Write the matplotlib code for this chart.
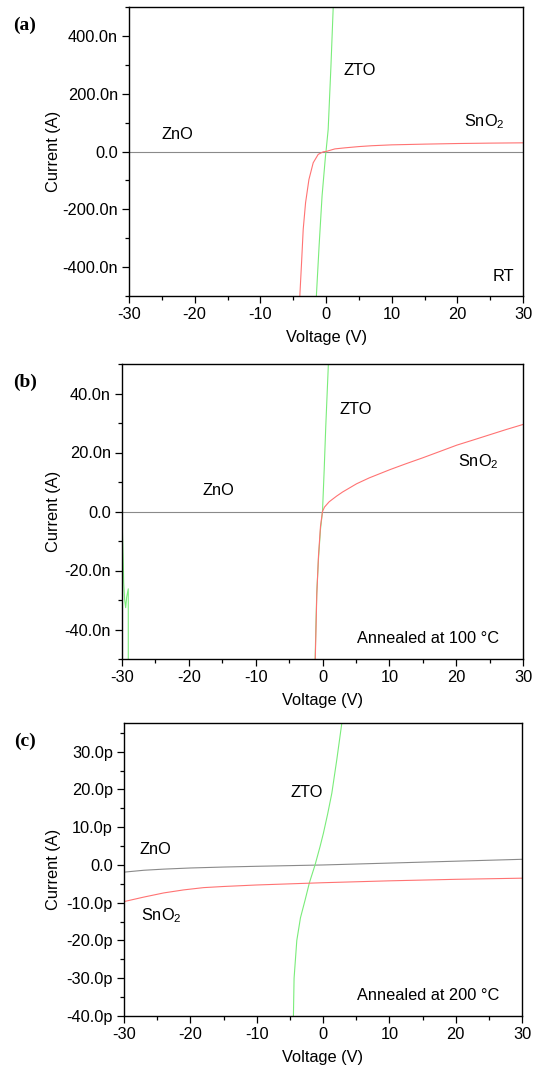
import numpy as np
import matplotlib
matplotlib.use("Agg")
import matplotlib.pyplot as plt
from matplotlib.ticker import MultipleLocator, FuncFormatter

# panel (a): room temperature, currents in nA
a_zno_v = [-30, 30]
a_zno_i = [0.0, 0.0]
a_sno2_v = [-4.05, -3.97, -3.72, -3.47, -3.11, -2.6, -1.95, -1.19, -0.42, 0, 1.35, 2.9, 5, 7, 10, 15, 20, 25, 30]
a_sno2_i = [-540, -493, -384, -269, -177, -97, -39, -10, -1, 0, 9, 12.7, 17, 20, 23, 25.5, 27.6, 29, 30]
a_zto_v = [-1.55, -1.45, -1.05, -0.6, -0.08, 0, 0.33, 0.75, 1.1, 1.15]
a_zto_i = [-560, -493, -326, -154, -16, 0, 76, 294, 500, 530]

# panel (b): annealed at 100 C, currents in nA
b_zno_v = [-30, 30]
b_zno_i = [0.0, 0.0]
b_sno2_v = [-1.12, -1.08, -0.85, -0.6, -0.3, 0, 0.3, 1, 2.1, 3, 5.1, 7, 10.1, 12.5, 15, 17.5, 20.1, 22.5, 25, 27.5, 30]
b_sno2_i = [-60, -50, -28, -15, -5, 0, 1.5, 3.3, 5.2, 6.6, 9.4, 11.4, 14.2, 16.2, 18.2, 20.3, 22.5, 24.2, 26.0, 27.8, 29.5]
b_zto_v = [-30.0, -29.9, -29.8, -29.75, -29.6, -29.45, -29.3, -29.06, -29.06, -1.15, -1.1, -1.0, -0.86, -0.61, -0.3, 0, 0.25, 0.49, 0.88, 0.95]
b_zto_i = [-1.5, -10, -18, -24, -30, -32.6, -29, -26.2, -60, -60, -50, -40, -27.6, -16.3, -6, 0, 14, 28.9, 50, 60]

# panel (c): annealed at 200 C, currents in pA
c_zno_v = [-30, -27, -24, -20, -15, -10, 0, 10, 20, 30]
c_zno_i = [-1.9, -1.4, -1.1, -0.8, -0.55, -0.35, 0.0, 0.5, 1.0, 1.5]
c_sno2_v = [-30, -27, -24, -21, -18, -15, -10, -5, 0, 10, 20, 30]
c_sno2_i = [-9.7, -8.5, -7.4, -6.6, -6.0, -5.7, -5.3, -5.0, -4.7, -4.2, -3.8, -3.5]
c_zto_v = [-4.6, -4.46, -4.36, -3.95, -3.4, -2.7, -2.05, -1.2, -0.44, 0.06, 0.7, 1.33, 2.08, 2.84, 3.0]
c_zto_i = [-45, -40, -30, -20, -14, -9.3, -4.7, 0, 4.9, 8.4, 13.5, 19, 27.9, 37.6, 42]

gray = '#8a8a8a'
red = '#ff7373'
green = '#7aec7a'
lw = 0.8
fs = 11.8


def make_formatter(scale, suffix):
    def fmt(v, pos):
        if abs(v) < 1e-30:
            return "0.0"
        return f"{v * scale:.1f}{suffix}"
    return FuncFormatter(fmt)


def setup_axes(fig, ax, ylim, major, minor, scale, suffix, label):
    ax.set_xlim(-30, 30)
    ax.set_ylim(ylim)
    ax.xaxis.set_major_locator(MultipleLocator(10))
    ax.xaxis.set_minor_locator(MultipleLocator(5))
    ax.yaxis.set_major_locator(MultipleLocator(major))
    ax.yaxis.set_minor_locator(MultipleLocator(minor))
    ax.yaxis.set_major_formatter(make_formatter(scale, suffix))
    ax.tick_params(which='major', direction='out', length=5, width=0.9, pad=3, labelsize=fs)
    ax.tick_params(which='minor', direction='out', length=3, width=0.9)
    ax.tick_params(top=False, right=False, which='both')
    for s in ax.spines.values():
        s.set_linewidth(1.0)
        s.set_color('black')
    ax.set_xlabel('Voltage (V)', fontsize=fs, labelpad=6)
    ax.set_ylabel('Current (A)', fontsize=fs)
    bb = ax.get_position()
    ax.yaxis.set_label_coords(61 / 538.0, bb.y0 + bb.height / 2, transform=fig.transFigure)
    ax.text(25 / 538.0, bb.y1 - 18 / 1067.0, label, transform=fig.transFigure, fontsize=14,
            fontweight='bold', family='Liberation Serif', ha='center', va='center')


if __name__ == "__main__":
    plt.rcParams["font.family"] = ["Liberation Sans", "DejaVu Sans"]
    plt.rcParams["font.size"] = fs
    plt.rcParams["axes.unicode_minus"] = False
    plt.rcParams["mathtext.fontset"] = "custom"
    plt.rcParams["mathtext.rm"] = "Liberation Sans"
    plt.rcParams["mathtext.it"] = "Liberation Sans:italic"

    fig = plt.figure(figsize=(5.38, 10.67), dpi=100)
    W, H = 538.0, 1067.0

    def add(left, right, top, bottom):
        return fig.add_axes([left / W, 1 - bottom / H, (right - left) / W, (bottom - top) / H])

    ax_a = add(129, 523, 7, 296)
    ax_b = add(122, 523, 364, 659)
    ax_c = add(124, 522, 723, 1016)

    n = 1e-9
    p = 1e-12

    # (a)
    ax_a.plot(a_zno_v, np.array(a_zno_i) * n, color=gray, lw=lw)
    ax_a.plot(a_zto_v, np.array(a_zto_i) * n, color=green, lw=lw)
    ax_a.plot(a_sno2_v, np.array(a_sno2_i) * n, color=red, lw=lw)
    setup_axes(fig, ax_a, (-500 * n, 500 * n), 200 * n, 100 * n, 1e9, 'n', '(a)')
    ax_a.text(-25.0, 58 * n, 'ZnO', va='center', ha='left')
    ax_a.text(2.6, 279 * n, 'ZTO', va='center', ha='left')
    ax_a.text(21.0, 104 * n, r'SnO$_\mathregular{2}$', va='center', ha='left')
    ax_a.text(25.4, -431 * n, 'RT', va='center', ha='left')

    # (b)
    ax_b.plot(b_zno_v, np.array(b_zno_i) * n, color=gray, lw=lw)
    ax_b.plot(b_zto_v, np.array(b_zto_i) * n, color=green, lw=lw)
    ax_b.plot(b_sno2_v, np.array(b_sno2_i) * n, color=red, lw=lw)
    setup_axes(fig, ax_b, (-50 * n, 50 * n), 20 * n, 10 * n, 1e9, 'n', '(b)')
    ax_b.text(-17.9, 7.1 * n, 'ZnO', va='center', ha='left')
    ax_b.text(2.5, 34.6 * n, 'ZTO', va='center', ha='left')
    ax_b.text(20.3, 17.0 * n, r'SnO$_\mathregular{2}$', va='center', ha='left')
    ax_b.text(5.2, -43.2 * n, 'Annealed at 100 °C', va='center', ha='left')

    # (c)
    ax_c.plot(c_zno_v, np.array(c_zno_i) * p, color=gray, lw=lw)
    ax_c.plot(c_zto_v, np.array(c_zto_i) * p, color=green, lw=lw)
    ax_c.plot(c_sno2_v, np.array(c_sno2_i) * p, color=red, lw=lw)
    setup_axes(fig, ax_c, (-40 * p, 37.6 * p), 10 * p, 5 * p, 1e12, 'p', '(c)')
    ax_c.text(-27.6, 4.2 * p, 'ZnO', va='center', ha='left')
    ax_c.text(-4.86, 19.2 * p, 'ZTO', va='center', ha='left')
    ax_c.text(-27.5, -13.3 * p, r'SnO$_\mathregular{2}$', va='center', ha='left')
    ax_c.text(5.1, -34.6 * p, 'Annealed at 200 °C', va='center', ha='left')

    plt.savefig('out.png', dpi=100)
    plt.close()
